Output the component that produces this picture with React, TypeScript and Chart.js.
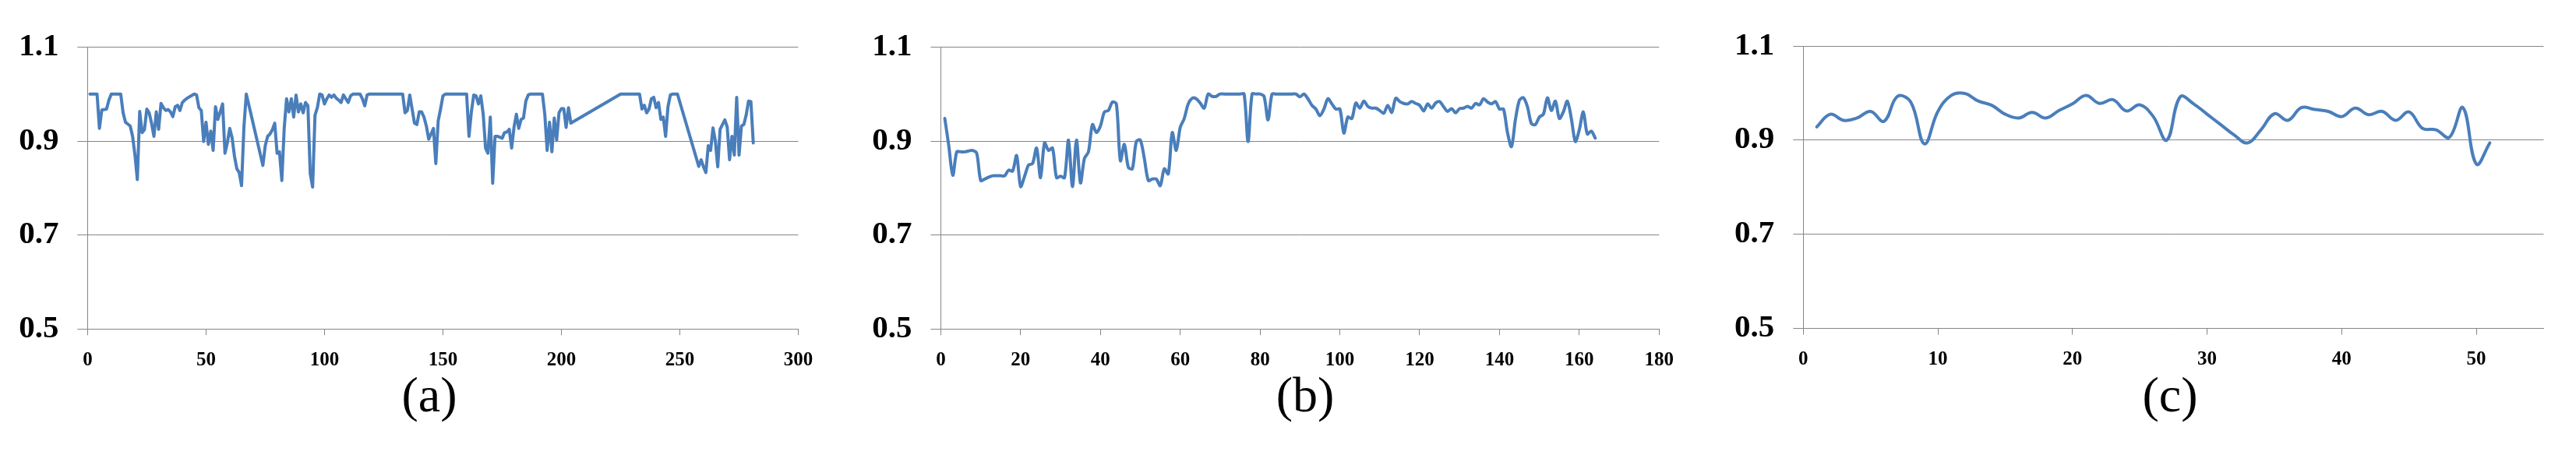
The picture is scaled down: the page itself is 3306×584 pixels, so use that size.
import React, { useEffect, useRef } from "react";
import { Chart, registerables } from "chart.js";

Chart.register(...registerables);

// ---------- data ----------
const yTickValues = [0.5, 0.7, 0.9, 1.1];

const aXTicks = [0, 50, 100, 150, 200, 250, 300];
const aX = [
  1, 4, 5, 6, 8, 9, 10, 14, 15, 16, 17, 18, 19, 20, 21, 22, 23, 24, 25, 26, 27, 28, 29, 30, 31, 32, 33, 34, 35,
  36, 37, 38, 39, 40, 41, 42, 43, 44, 45, 46, 47, 48, 49, 50, 51, 52, 53, 54, 55, 56, 57, 58, 59, 60, 61, 62, 63,
  64, 65, 66, 67, 74, 75, 76, 77, 78, 79, 80, 81, 82, 83, 84, 85, 86, 87, 88, 89, 90, 91, 92, 93, 94, 95, 96, 97,
  98, 99, 100, 101, 102, 103, 104, 105, 106, 107, 108, 109, 110, 111, 112, 115, 116, 117, 118, 119, 133, 134, 135,
  136, 137, 138, 139, 140, 141, 142, 143, 144, 145, 146, 147, 148, 149, 150, 151, 160, 161, 162, 163, 164, 165, 166,
  167, 168, 169, 170, 171, 172, 173, 174, 175, 176, 177, 178, 179, 180, 181, 182, 183, 184, 185, 186, 187, 192, 193,
  194, 195, 196, 197, 198, 199, 200, 201, 202, 203, 204, 225, 233, 234, 235, 236, 237, 238, 239, 240, 241, 242, 243,
  244, 245, 246, 247, 249, 258, 259, 260, 261, 262, 263, 264, 265, 266, 267, 268, 269, 270, 271, 272, 273, 274, 275,
  276, 277, 278, 279, 280, 281,
];
const aY = [
  1.0, 1.0, 0.927, 0.966, 0.968, 0.987, 1.0, 1.0, 0.96, 0.94, 0.936, 0.932, 0.91, 0.87, 0.818, 0.963, 0.918, 0.924,
  0.968, 0.96, 0.938, 0.91, 0.962, 0.925, 0.98, 0.971, 0.965, 0.967, 0.962, 0.952, 0.973, 0.976, 0.965, 0.982, 0.987,
  0.991, 0.994, 0.997, 1.0, 0.998, 0.971, 0.965, 0.899, 0.94, 0.893, 0.921, 0.88, 0.973, 0.946, 0.962, 0.979, 0.874,
  0.896, 0.927, 0.907, 0.868, 0.841, 0.833, 0.805, 0.93, 1.0, 0.848, 0.89, 0.91, 0.915, 0.924, 0.938, 0.874, 0.877,
  0.816, 0.927, 0.99, 0.962, 0.99, 0.951, 0.998, 0.962, 0.979, 0.96, 0.982, 0.975, 0.83, 0.802, 0.955, 0.971, 1.0,
  0.998, 0.979, 0.99, 0.998, 0.993, 0.998, 0.991, 0.987, 0.982, 0.998, 0.99, 0.982, 0.996, 1.0, 1.0, 0.99, 0.975,
  0.998, 1.0, 1.0, 0.96, 0.965, 0.998, 0.968, 0.938, 0.935, 0.962, 0.962, 0.951, 0.932, 0.904, 0.915, 0.927, 0.852,
  0.943, 0.968, 0.996, 1.0, 1.0, 0.91, 0.962, 0.998, 0.996, 0.979, 0.996, 0.957, 0.885, 0.874, 0.951, 0.81, 0.91,
  0.91, 0.908, 0.906, 0.918, 0.919, 0.925, 0.885, 0.929, 0.957, 0.927, 0.946, 0.949, 0.985, 0.998, 1.0, 1.0, 0.957,
  0.88, 0.94, 0.877, 0.949, 0.902, 0.96, 0.969, 0.969, 0.929, 0.971, 0.938, 1.0, 1.0, 0.968, 0.976, 0.96, 0.968,
  0.99, 0.993, 0.971, 0.982, 0.946, 0.951, 0.91, 0.973, 0.998, 1.0, 1.0, 0.846, 0.86, 0.845, 0.833, 0.89, 0.88, 0.928,
  0.9, 0.845, 0.925, 0.935, 0.945, 0.93, 0.86, 0.91, 0.87, 0.993, 0.87, 0.932, 0.935, 0.955, 0.985, 0.984, 0.896,
];

const bXTicks = [0, 20, 40, 60, 80, 100, 120, 140, 160, 180];
const bY = [
  0.948, 0.89, 0.827, 0.877, 0.877, 0.877, 0.879, 0.88, 0.874, 0.816,
  0.819, 0.823, 0.826, 0.826, 0.826, 0.826, 0.838, 0.836, 0.869, 0.803,
  0.825, 0.849, 0.852, 0.885, 0.822, 0.896, 0.88, 0.885, 0.822, 0.825,
  0.822, 0.902, 0.803, 0.902, 0.811, 0.863, 0.877, 0.935, 0.918, 0.932,
  0.962, 0.965, 0.983, 0.979, 0.858, 0.893, 0.844, 0.841, 0.899, 0.902,
  0.863, 0.816, 0.819, 0.819, 0.805, 0.841, 0.83, 0.918, 0.88, 0.929,
  0.948, 0.979, 0.991, 0.99, 0.981, 0.97, 1.0, 0.995, 0.995, 1.0,
  1.0, 1.0, 1.0, 1.0, 1.0, 1.0, 0.899, 1.0, 1.0, 1.0,
  0.995, 0.945, 1.0, 1.0, 1.0, 1.0, 1.0, 1.0, 1.0, 0.994,
  1.0, 0.99, 0.976, 0.968, 0.954, 0.968, 0.99, 0.979, 0.968, 0.968,
  0.917, 0.951, 0.948, 0.981, 0.97, 0.985, 0.974, 0.97, 0.97, 0.965,
  0.959, 0.976, 0.961, 0.991, 0.984, 0.98, 0.979, 0.984, 0.98, 0.976,
  0.964, 0.979, 0.97, 0.981, 0.984, 0.973, 0.963, 0.969, 0.96, 0.969,
  0.97, 0.974, 0.97, 0.98, 0.977, 0.99, 0.983, 0.979, 0.984, 0.968,
  0.968, 0.918, 0.888, 0.946, 0.987, 0.992, 0.973, 0.937, 0.935, 0.951,
  0.957, 0.992, 0.965, 0.985, 0.948, 0.962, 0.985, 0.948, 0.899, 0.924,
  0.962, 0.915, 0.921, 0.906,
];

const cXTicks = [0, 10, 20, 30, 40, 50];
const cY = [
  0.928, 0.955, 0.942, 0.947, 0.961, 0.94, 0.993, 0.98, 0.892, 0.961,
  0.995, 0.999, 0.983, 0.974, 0.955, 0.947, 0.959, 0.947, 0.963, 0.977,
  0.995, 0.978, 0.986, 0.962, 0.975, 0.95, 0.9, 0.992, 0.977, 0.955,
  0.933, 0.911, 0.894, 0.922, 0.956, 0.942, 0.969, 0.965, 0.961, 0.95,
  0.968, 0.954, 0.961, 0.942, 0.96, 0.925, 0.922, 0.906, 0.969, 0.849, 0.894,
];

const panelLabels = ["(a)", "(b)", "(c)"];

// ---------- styling ----------
const LINE = "#4A7EBB";
const GRID = "#868686";
const SERIF = "'Liberation Serif', 'Times New Roman', serif";
const H = 584;

type PanelProps = {
  left: number;
  width: number;
  xs: number[];
  ys: number[];
  xTicks: number[];
  xMax: number;
  plotLeft: number;
  plotRight: number;
  plotTop: number;
  plotBottom: number;
  tension: number;
};

function Panel(p: PanelProps) {
  const ref = useRef<HTMLCanvasElement>(null);
  useEffect(() => {
    const canvas = ref.current!;
    const chart = new Chart(canvas, {
      type: "line",
      data: {
        datasets: [
          {
            data: p.xs.map((x, i) => ({ x, y: p.ys[i] })),
            borderColor: LINE,
            borderWidth: 4,
            pointRadius: 0,
            tension: p.tension,
            fill: false,
            borderJoinStyle: "round",
            borderCapStyle: "round",
          },
        ],
      },
      options: {
        responsive: false,
        animation: false,
        events: [],
        layout: { padding: { left: 0, top: p.plotTop, right: p.width - p.plotRight, bottom: 0 } },
        plugins: { legend: { display: false }, tooltip: { enabled: false }, title: { display: false } },
        scales: {
          x: {
            type: "linear",
            min: 0,
            max: p.xMax,
            afterBuildTicks: (s: any) => {
              s.ticks = p.xTicks.map((v) => ({ value: v }));
            },
            afterFit: (s: any) => {
              s.height = H - p.plotBottom;
            },
            grid: { drawOnChartArea: false, drawTicks: true, tickLength: 8, color: GRID, lineWidth: 1 },
            border: { display: true, color: GRID, width: 1 },
            ticks: {
              padding: 17,
              color: "#000",
              maxRotation: 0,
              autoSkip: false,
              font: { family: SERIF, size: 25, weight: "bold" },
            },
          },
          y: {
            type: "linear",
            min: 0.5,
            max: 1.1,
            afterBuildTicks: (s: any) => {
              s.ticks = yTickValues.map((v) => ({ value: v }));
            },
            afterFit: (s: any) => {
              s.width = p.plotLeft;
            },
            grid: { color: GRID, lineWidth: 1, drawTicks: true, tickLength: 13 },
            border: { display: true, color: GRID, width: 1 },
            ticks: {
              padding: 24,
              color: "#000",
              font: { family: SERIF, size: 41, weight: "bold" },
              callback: (v: any) => Number(v).toFixed(1),
            },
          },
        },
      },
    } as any);
    return () => chart.destroy();
  }, []);
  return (
    <canvas
      ref={ref}
      width={p.width}
      height={H}
      style={{ position: "absolute", left: p.left, top: 0, width: p.width, height: H }}
    />
  );
}

function Label({ text, center }: { text: string; center: number }) {
  return (
    <div
      style={{
        position: "absolute",
        left: center - 100,
        width: 200,
        top: 475,
        height: 64,
        lineHeight: "64px",
        fontSize: 64,
        fontFamily: SERIF,
        textAlign: "center",
        color: "#000",
      }}
    >
      {text}
    </div>
  );
}

export default function App() {
  const bX = bY.map((_, i) => i + 1);
  const cX = cY.map((_, i) => i + 1);
  return (
    <div style={{ position: "absolute", left: 0, top: 0, width: 3306, height: H, background: "#fff", overflow: "hidden" }}>
      <Panel left={0} width={1100} xs={aX} ys={aY} xTicks={aXTicks} xMax={300}
        plotLeft={112.4} plotRight={1024.5} plotTop={60.4} plotBottom={422.2} tension={0} />
      <Panel left={1100} width={1100} xs={bX} ys={bY} xTicks={bXTicks} xMax={180}
        plotLeft={107.4} plotRight={1029.3} plotTop={60.4} plotBottom={422.2} tension={0.3} />
      <Panel left={2200} width={1106} xs={cX} ys={cY} xTicks={cXTicks} xMax={55}
        plotLeft={114.3} plotRight={1064.5} plotTop={59} plotBottom={421.5} tension={0.4} />
      <Label text={panelLabels[0]} center={551} />
      <Label text={panelLabels[1]} center={1675} />
      <Label text={panelLabels[2]} center={2785} />
    </div>
  );
}
